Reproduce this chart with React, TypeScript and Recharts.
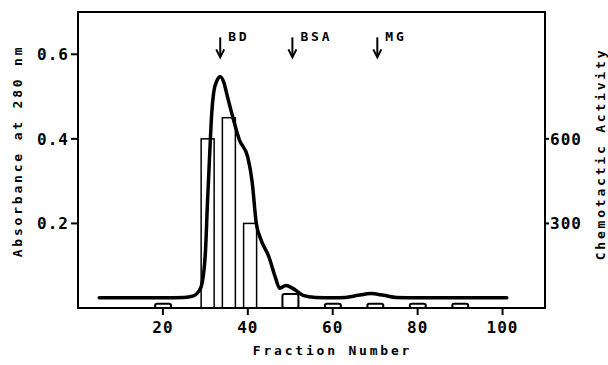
import React from "react";
import { ComposedChart, Line, Bar, XAxis, YAxis, ReferenceArea, ReferenceDot, Label } from "recharts";

// absorbance trace (fraction number -> A280)
const fractions = [5, 10, 15, 20, 25, 27, 28, 29, 30, 30.5, 31, 31.5, 32, 32.7, 33.5, 34.4, 35, 36.5, 38, 40, 41, 42, 43, 45, 46.5, 47.5, 49, 50.5, 53, 56, 60, 63, 66, 69, 72, 75, 80, 90, 101];
const absorbance = [0.024, 0.024, 0.024, 0.024, 0.025, 0.028, 0.034, 0.05, 0.13, 0.25, 0.36, 0.46, 0.512, 0.537, 0.547, 0.532, 0.508, 0.45, 0.398, 0.356, 0.3, 0.2, 0.164, 0.12, 0.072, 0.047, 0.053, 0.047, 0.03, 0.025, 0.024, 0.025, 0.03, 0.034, 0.03, 0.025, 0.024, 0.024, 0.024];

// chemotactic activity bars
const barFractions = [20, 30.5, 35.5, 40.5, 50, 60, 70, 80, 90];
const activity = [15, 600, 675, 300, 50, 15, 15, 15, 15];

// marker proteins
const markerNames = ["BD", "BSA", "MG"];
const markerFractions = [33.5, 50.5, 70.5];

const xTicks = [20, 40, 60, 80, 100];
const leftTicks = [0.2, 0.4, 0.6];
const rightTicks = [300, 600];

const rows: { fraction: number; absorbance?: number; activity?: number }[] = [
  ...fractions.map((f, i) => ({ fraction: f, absorbance: absorbance[i] })),
  ...barFractions.map((f, i) => ({ fraction: f + 0.001, activity: activity[i] })),
];
const data = rows.sort((a, b) => a.fraction - b.fraction);

const font = "'DejaVu Sans Mono', monospace";
const tickStyle = { fontFamily: font, fontSize: 16, fontWeight: 700, fill: "#000", letterSpacing: 1 };
const titleStyle = { fontFamily: font, fontSize: 13, fontWeight: 700, fill: "#000", letterSpacing: 2.8 };

const Arrow = (props: any) => {
  const { cx, cy, name } = props;
  return (
    <g>
      <line x1={cx} y1={cy} x2={cx} y2={cy + 19} stroke="#000" strokeWidth={2} />
      <polyline points={`${cx - 4},${cy + 12} ${cx},${cy + 20} ${cx + 4},${cy + 12}`} fill="none" stroke="#000" strokeWidth={2} />
      <text x={cx + 8} y={cy + 4} style={titleStyle}>{name}</text>
    </g>
  );
};

const OpenBar = (props: any) => {
  const { x, y, width, height, value } = props;
  if (value == null || !height) return null;
  const big = value > 100;
  const w = big ? 13 : 16;
  const cx = x + width / 2;
  return (
    <rect
      x={cx - w / 2}
      y={y}
      width={w}
      height={height}
      rx={big ? 0 : 2}
      fill="none"
      stroke="#000"
      strokeWidth={big ? 1.5 : 2}
    />
  );
};

export default function App() {
  return (
    <div style={{ position: "absolute", left: 0, top: 0, background: "#fff" }}>
      <ComposedChart width={608} height={365} data={data} margin={{ top: 12, right: 0, bottom: 0, left: 0 }}>
        <XAxis
          dataKey="fraction"
          type="number"
          domain={[0, 110]}
          ticks={xTicks}
          axisLine={false}
          tickSize={7}
          tickMargin={7}
          tickLine={{ stroke: "#000", strokeWidth: 2 }}
          tick={tickStyle}
          height={57}
        >
          <Label
            content={(p: any) => {
              const vb = p.viewBox;
              return (
                <text x={vb.x + vb.width / 2 + 21} y={vb.y + 47} textAnchor="middle" style={titleStyle}>
                  Fraction Number
                </text>
              );
            }}
          />
        </XAxis>
        <YAxis
          yAxisId="left"
          domain={[0, 0.7]}
          ticks={leftTicks}
          axisLine={false}
          tickSize={7}
          tickMargin={2}
          tickLine={{ stroke: "#000", strokeWidth: 2 }}
          tick={tickStyle}
          width={78}
        >
          <Label
            content={(p: any) => {
              const vb = p.viewBox;
              const x = vb.x + 17;
              const y = vb.y + vb.height / 2 - 9;
              return (
                <text x={x} y={y} textAnchor="middle" dominantBaseline="central" transform={`rotate(-90, ${x}, ${y})`} style={titleStyle}>
                  Absorbance at 280 nm
                </text>
              );
            }}
          />
        </YAxis>
        <YAxis
          yAxisId="right"
          orientation="right"
          domain={[0, 1050]}
          ticks={rightTicks}
          axisLine={false}
          tickSize={4}
          tickMargin={1}
          tickLine={{ stroke: "#000", strokeWidth: 2 }}
          tick={tickStyle}
          width={63}
        >
          <Label
            content={(p: any) => {
              const vb = p.viewBox;
              const x = vb.x + 55;
              const y = vb.y + vb.height / 2 - 6;
              return (
                <text x={x} y={y} textAnchor="middle" dominantBaseline="central" transform={`rotate(-90, ${x}, ${y})`} style={titleStyle}>
                  Chemotactic Activity
                </text>
              );
            }}
          />
        </YAxis>

        {/* plot frame */}
        <ReferenceArea yAxisId="left" x1={0} x2={110} y1={0} y2={0.7} fill="none" stroke="#000" strokeWidth={2} />

        <Bar yAxisId="right" dataKey="activity" shape={OpenBar} isAnimationActive={false} />

        <Line
          yAxisId="left"
          dataKey="absorbance"
          type="monotone"
          stroke="#000"
          strokeWidth={3.5}
          strokeLinecap="round"
          dot={false}
          connectNulls
          isAnimationActive={false}
        />

        {markerNames.map((n, i) => (
          <ReferenceDot
            key={n}
            yAxisId="left"
            x={markerFractions[i]}
            y={0.64}
            shape={(p: any) => <Arrow {...p} name={n} />}
          />
        ))}
      </ComposedChart>
    </div>
  );
}
